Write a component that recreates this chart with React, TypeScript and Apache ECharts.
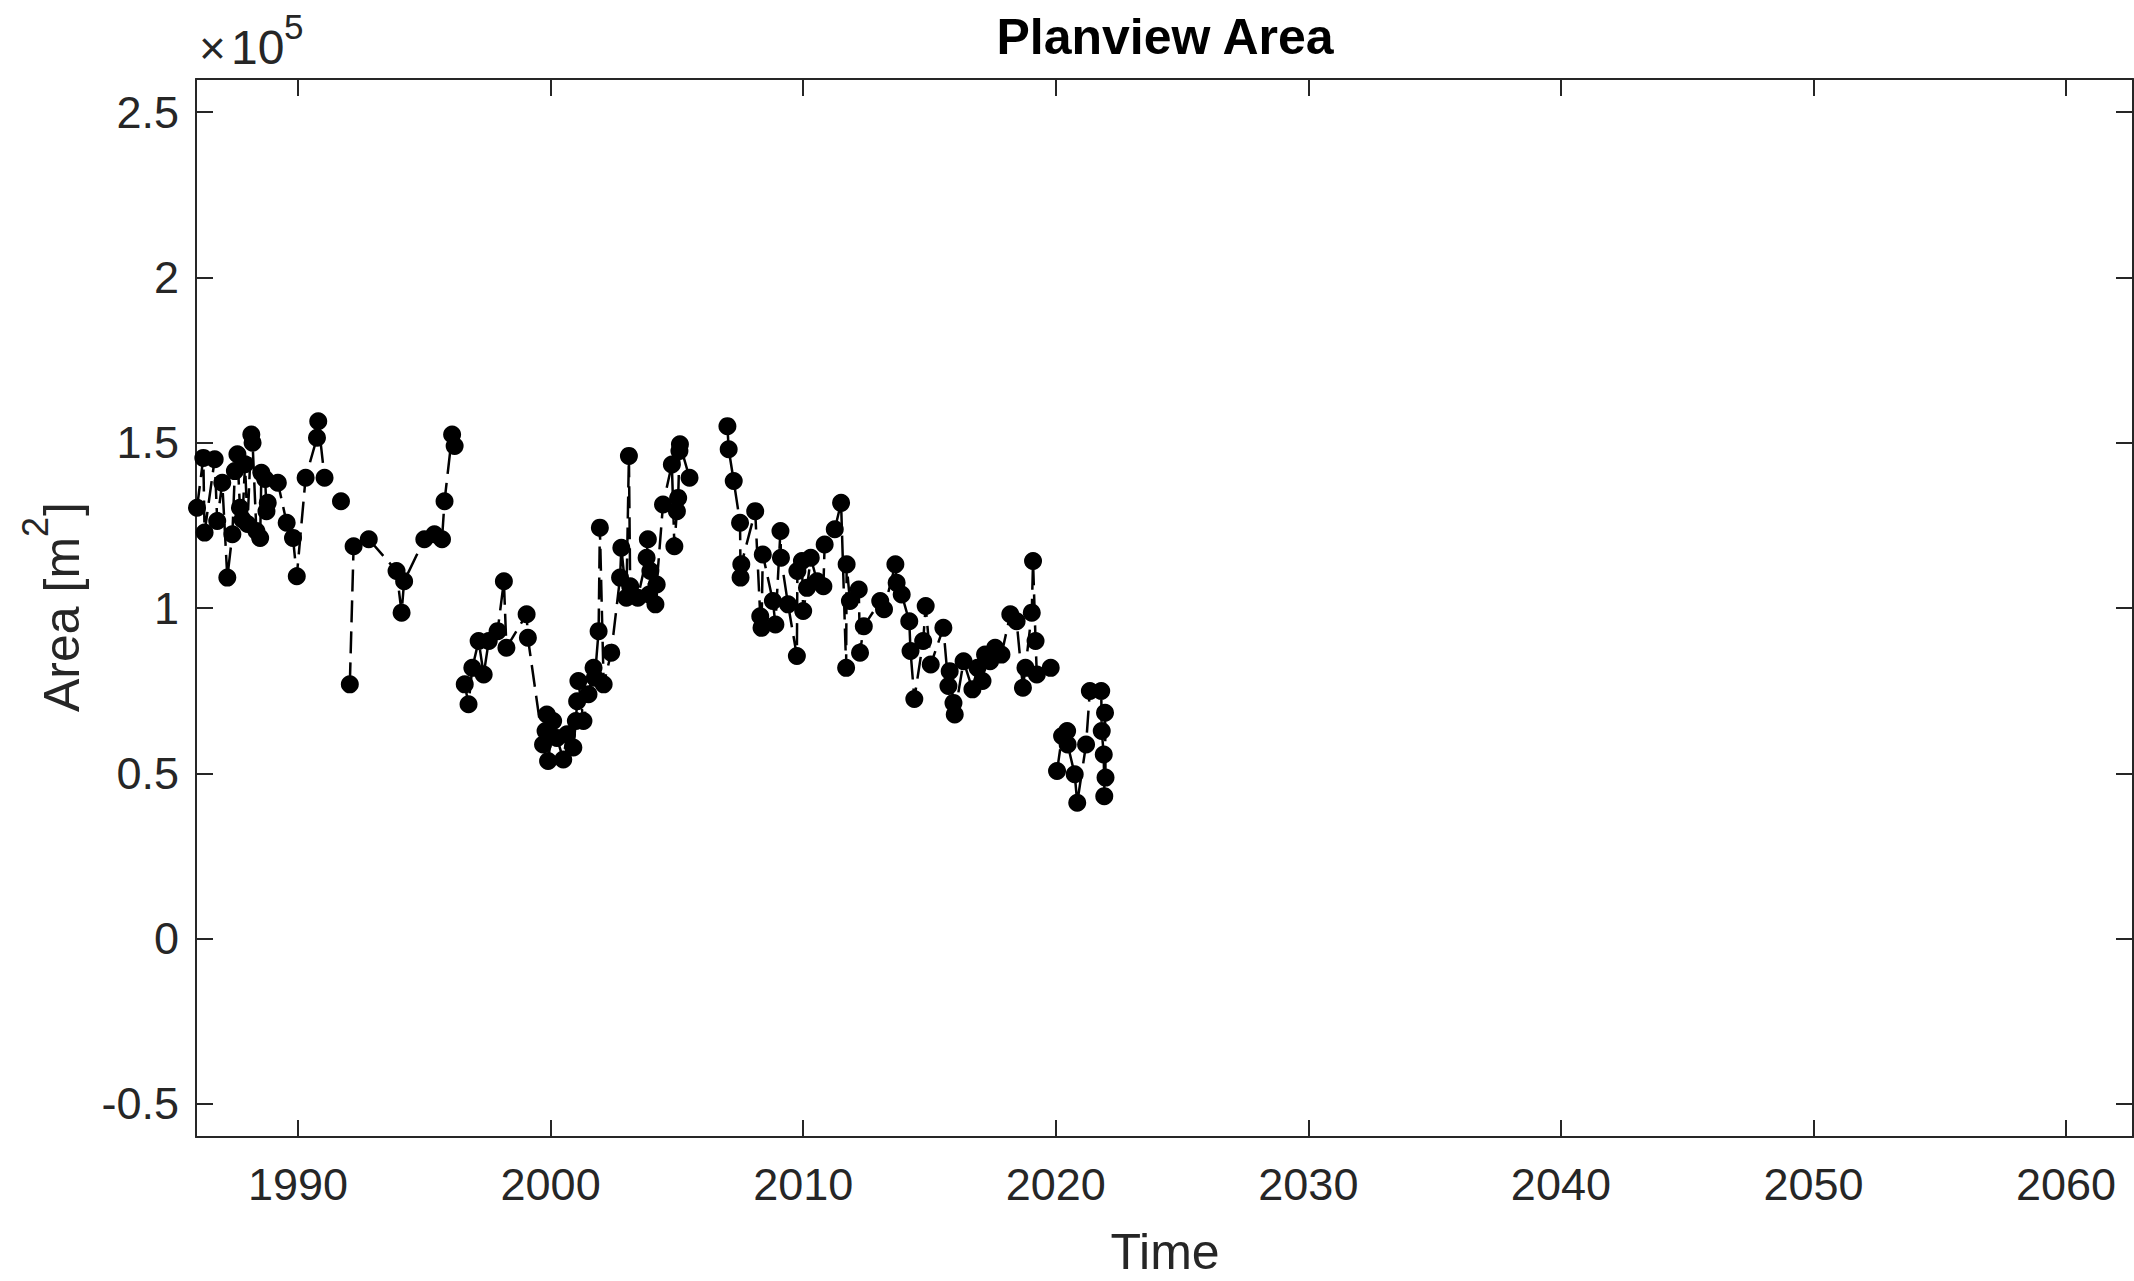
import React, { useEffect, useRef } from "react";
import * as echarts from "echarts";

// Decimal years and planview area (x 1e5 m^2); null marks a break in the line
const years = [
  1986.0, 1986.25, 1986.3, 1986.7, 1986.8, 1987.0, 1987.2, 1987.4, 1987.5, 1987.6,
  1987.7, 1987.8, 1987.9, 1988.0, 1988.15, 1988.2, 1988.35, 1988.5, 1988.55, 1988.7,
  1988.75, 1988.8, 1989.2, 1989.55, 1989.8, 1989.95, 1990.3, 1990.75, 1990.8, 1991.05,
  1991.4, 1991.7, 1991.9, 1992.05, 1992.2, 1992.8, 1993.9, 1994.1, 1994.2, 1995.0,
  1995.4, 1995.7, 1995.8, 1996.1, 1996.2, 1996.4, 1996.6, 1996.75, 1996.9, 1997.15,
  1997.35, 1997.55, 1997.9, 1998.15, 1998.25, 1999.05, 1999.1, 1999.7, 1999.8, 1999.85,
  1999.9, 2000.1, 2000.25, 2000.5, 2000.65, 2000.9, 2001.0, 2001.05, 2001.1, 2001.3,
  2001.5, 2001.7, 2001.75, 2001.9, 2001.95, 2002.1, 2002.4, 2002.75, 2002.8, 2003.0,
  2003.1, 2003.15, 2003.45, 2003.8, 2003.85, 2003.9, 2003.95, 2004.15, 2004.2, 2004.45,
  2004.8, 2004.9, 2005.0, 2005.05, 2005.1, 2005.12, 2005.5, 2006.2, 2007.0, 2007.05,
  2007.25, 2007.5, 2007.52, 2007.55, 2008.1, 2008.3, 2008.35, 2008.4, 2008.8, 2008.9,
  2009.1, 2009.12, 2009.4, 2009.75, 2009.77, 2009.95, 2010.0, 2010.15, 2010.3, 2010.55,
  2010.8, 2010.85, 2011.25, 2011.5, 2011.7, 2011.72, 2011.85, 2012.2, 2012.25, 2012.4,
  2013.05, 2013.2, 2013.65, 2013.7, 2013.9, 2014.2, 2014.25, 2014.4, 2014.75, 2014.85,
  2015.05, 2015.55, 2015.75, 2015.8, 2015.95, 2016.0, 2016.35, 2016.7, 2016.9, 2017.1,
  2017.2, 2017.4, 2017.6, 2017.85, 2018.2, 2018.45, 2018.7, 2018.8, 2019.05, 2019.1,
  2019.2, 2019.25, 2019.8, 2019.9, 2020.05, 2020.25, 2020.45, 2020.47, 2020.75, 2020.85,
  2021.2, 2021.35, 2021.8, 2021.82, 2021.9, 2021.92, 2021.95, 2021.97,
];
const areas = [
  1.303, 1.454, 1.228, 1.45, 1.263, 1.379, 1.092, 1.223, 1.414, 1.465,
  1.303, 1.268, 1.435, 1.254, 1.525, 1.5, 1.233, 1.212, 1.409, 1.39,
  1.293, 1.318, 1.379, 1.258, 1.212, 1.096, 1.394, 1.515, 1.565, 1.394,
  null, 1.323, null, 0.769, 1.187, 1.208, 1.112, 0.986, 1.081, 1.208,
  1.223, 1.208, 1.323, 1.525, 1.49, null, 0.769, 0.709, 0.819, 0.9,
  0.799, 0.9, 0.93, 1.081, 0.88, 0.981, 0.91, 0.587, 0.628, 0.678,
  0.537, 0.658, 0.607, 0.542, 0.618, 0.578, 0.658, 0.718, 0.779, 0.658,
  0.739, 0.819, 0.789, 0.93, 1.243, 0.769, 0.865, 1.092, 1.182, 1.031,
  1.46, 1.066, 1.031, 1.152, 1.208, 1.041, 1.112, 1.011, 1.071, 1.313,
  1.434, 1.187, 1.293, 1.333, 1.475, 1.495, 1.394, null, 1.55, 1.48,
  1.384, 1.258, 1.092, 1.132, 1.293, 0.975, 0.94, 1.162, 1.021, 0.95,
  1.233, 1.152, 1.011, 0.855, 1.112, 1.142, 0.991, 1.061, 1.152, 1.081,
  1.066, 1.192, 1.238, 1.318, 0.819, 1.132, 1.021, 1.056, 0.865, 0.945,
  1.021, 0.996, 1.132, 1.076, 1.041, 0.96, 0.87, 0.725, 0.9, 1.006,
  0.829, 0.94, 0.764, 0.809, 0.713, 0.678, 0.839, 0.754, 0.819, 0.779,
  0.859, 0.839, 0.88, 0.859, 0.981, 0.96, 0.759, 0.819, 0.986, 1.142,
  0.9, 0.799, 0.819, null, 0.507, 0.613, 0.628, 0.587, 0.497, 0.411,
  0.587, 0.749, 0.749, 0.628, 0.557, 0.431, 0.683, 0.487,
];
const xTicks = [1990, 2000, 2010, 2020, 2030, 2040, 2050, 2060];
const yTicks = [-0.5, 0, 0.5, 1, 1.5, 2, 2.5];

const FONT = '"Liberation Sans", Arial, Helvetica, sans-serif';
const AX = "#262626";

export default function App() {
  const ref = useRef<HTMLDivElement>(null);
  useEffect(() => {
    if (!ref.current) return;
    const chart = echarts.init(ref.current, null, { renderer: "svg" });
    const data = years.map((y, i) => [y, areas[i] === null ? "-" : areas[i]]);
    const lineAx = { show: true, onZero: false, lineStyle: { color: AX, width: 2 } };
    const tick = (vals: number[]) => ({
      show: true,
      inside: true,
      length: 17,
      customValues: vals,
      lineStyle: { color: AX, width: 2 },
    });
    chart.setOption({
      animation: false,
      backgroundColor: "#ffffff",
      grid: { left: 196, top: 79, width: 1937, height: 1058, containLabel: false },
      xAxis: [
        {
          type: "value",
          position: "bottom",
          min: 1985.96,
          max: 2062.65,
          axisLine: lineAx,
          axisTick: tick(xTicks),
          splitLine: { show: false },
          axisLabel: {
            customValues: xTicks,
            formatter: (v: number) => String(v),
            color: AX,
            fontSize: 45,
            fontFamily: FONT,
            margin: 25,
          },
        },
        {
          type: "value",
          position: "top",
          min: 1985.96,
          max: 2062.65,
          axisLine: lineAx,
          axisTick: tick(xTicks),
          splitLine: { show: false },
          axisLabel: { show: false },
        },
      ],
      yAxis: [
        {
          type: "value",
          position: "left",
          min: -0.6,
          max: 2.6,
          axisLine: lineAx,
          axisTick: tick(yTicks),
          splitLine: { show: false },
          axisLabel: {
            customValues: yTicks,
            formatter: (v: number) => String(v),
            color: AX,
            fontSize: 45,
            fontFamily: FONT,
            margin: 17,
          },
        },
        {
          type: "value",
          position: "right",
          min: -0.6,
          max: 2.6,
          axisLine: lineAx,
          axisTick: tick(yTicks),
          splitLine: { show: false },
          axisLabel: { show: false },
        },
      ],
      series: [
        {
          type: "line",
          data,
          xAxisIndex: 0,
          yAxisIndex: 0,
          symbol: "circle",
          symbolSize: 18,
          showSymbol: true,
          showAllSymbol: true,
          connectNulls: false,
          itemStyle: { color: "#000000" },
          lineStyle: { color: "#000000", width: 2.5, type: [22, 9] },
          emphasis: { disabled: true },
        },
      ],
      graphic: [
        {
          type: "text",
          x: 1165,
          y: 37,
          style: {
            text: "Planview Area",
            fontSize: 50,
            fontWeight: "bold",
            fontFamily: FONT,
            fill: "#000000",
            textAlign: "center",
            textVerticalAlign: "middle",
          },
        },
        {
          type: "text",
          x: 1165,
          y: 1252,
          style: {
            text: "Time",
            fontSize: 50,
            fontFamily: FONT,
            fill: AX,
            textAlign: "center",
            textVerticalAlign: "middle",
          },
        },
        {
          type: "text",
          x: 199,
          y: 48,
          style: { text: "×", fontSize: 46, fontFamily: FONT, fill: AX, textAlign: "left", textVerticalAlign: "middle" },
        },
        {
          type: "text",
          x: 231,
          y: 47,
          style: { text: "10", fontSize: 48, fontFamily: FONT, fill: AX, textAlign: "left", textVerticalAlign: "middle" },
        },
        {
          type: "text",
          x: 284,
          y: 26,
          style: { text: "5", fontSize: 35, fontFamily: FONT, fill: AX, textAlign: "left", textVerticalAlign: "middle" },
        },
        {
          type: "group",
          x: 62,
          y: 608,
          rotation: Math.PI / 2,
          children: [
            {
              type: "text",
              x: -104,
              y: 0,
              style: { text: "Area [m", fontSize: 50, fontFamily: FONT, fill: AX, textAlign: "left", textVerticalAlign: "middle" },
            },
            {
              type: "text",
              x: 71,
              y: -27,
              style: { text: "2", fontSize: 36, fontFamily: FONT, fill: AX, textAlign: "left", textVerticalAlign: "middle" },
            },
            {
              type: "text",
              x: 92,
              y: 0,
              style: { text: "]", fontSize: 50, fontFamily: FONT, fill: AX, textAlign: "left", textVerticalAlign: "middle" },
            },
          ],
        },
      ],
    });
    return () => chart.dispose();
  }, []);
  return (
    <div
      ref={ref}
      style={{ position: "fixed", left: 0, top: 0, width: 2134, height: 1281, background: "#fff" }}
    />
  );
}
